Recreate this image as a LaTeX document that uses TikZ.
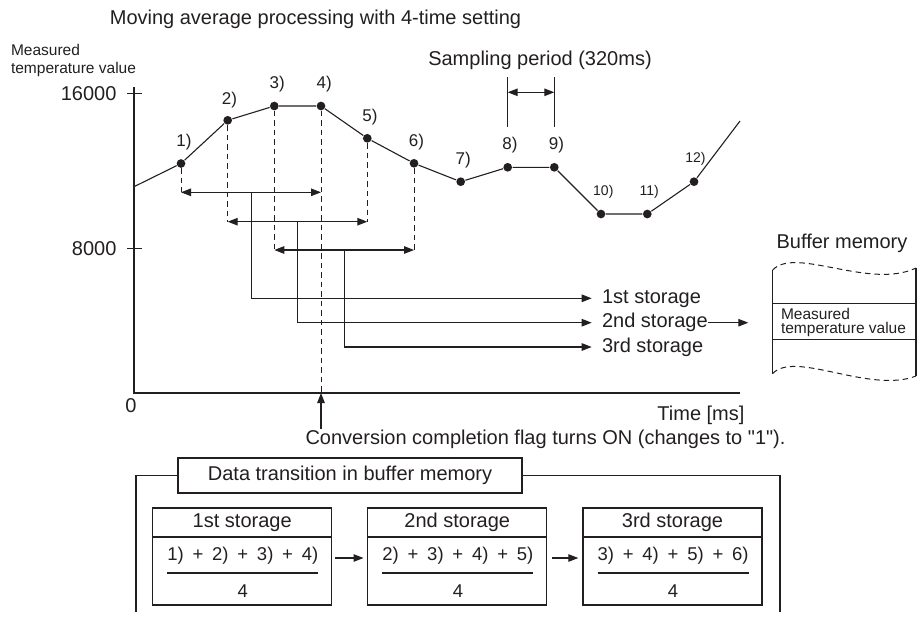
\documentclass[tikz,border=0pt]{standalone}
\usepackage{fontspec}
\setmainfont{Liberation Sans}[Ligatures=TeXOff]
\usetikzlibrary{arrows.meta}
\definecolor{ink}{RGB}{35,31,32}
\newcommand{\mypl}{\hspace{0.476em}+\hspace{0.476em}}
\begin{document}
\begin{tikzpicture}[x=1pt,y=-1pt, line width=1.1pt, color=ink,
  every node/.style={inner sep=0pt},
  lbl/.style={font=\fontsize{20}{22}\selectfont},
  small/.style={font=\fontsize{15.5}{17}\selectfont},
  ptl/.style={font=\fontsize{17}{18}\selectfont},
  ptls/.style={font=\fontsize{14}{16}\selectfont},
  frac/.style={font=\fontsize{18.5}{20}\selectfont},
  dot/.style={circle, fill=ink, minimum size=8.7pt, inner sep=0pt},
  dline/.style={dash pattern=on 5.5pt off 4pt, line width=1pt},
  tip/.style={-{Triangle[length=10pt,width=7.5pt]}},
  dtip/.style={{Triangle[length=10pt,width=7.5pt]}-{Triangle[length=10pt,width=7.5pt]}},
  hbox/.style={draw, line width=1.2pt, minimum width=179pt, minimum height=29pt, font=\fontsize{20}{22}\selectfont},
  bbox/.style={draw, line width=1.2pt, minimum width=179pt, minimum height=68pt},
]
\useasboundingbox (0,0) rectangle (920,619);

% title
\node[lbl, anchor=east] (title) at (521.7,19) {Moving average processing with 4-time setting};

% axis labels
\node[small, anchor=north west, align=left, font=\fontsize{15.5}{18}\selectfont] (ylab) at (10.5,44) {Measured\\temperature value};
\node[lbl, anchor=east] (v16) at (117,93.3) {16000};
\node[lbl, anchor=east] (v8) at (117,248.3) {8000};
\node[lbl] (v0) at (131,406) {0};

% axes
\coordinate (ytop) at (134,87);
\coordinate (orig) at (134,393);
\coordinate (xend) at (740,393);
\draw[line width=1.2pt] (ytop) -- (orig) -- (xend);
\coordinate (t16a) at (127,93.3); \coordinate (t16b) at (141.5,93.3);
\coordinate (t8a) at (127,248.3); \coordinate (t8b) at (141.5,248.3);
\draw[line width=1.2pt] (t16a) -- (t16b);
\draw[line width=1.2pt] (t8a) -- (t8b);

% data points
\foreach \i/\x/\y in {1/181/163.5, 2/227.7/120.3, 3/274.3/106, 4/321/106, 5/367.3/138.3, 6/414/163.3, 7/460.7/181.7, 8/507.7/167.3, 9/554.3/167.3, 10/601/214, 11/647.3/214, 12/694/181.7}
  \node[dot] (p\i) at (\x,\y) {};
\coordinate (gstart) at (134,186.7);
\coordinate (gend) at (740,121);
\draw (gstart) -- (p1) -- (p2) -- (p3) -- (p4) -- (p5) -- (p6) -- (p7) -- (p8) -- (p9) -- (p10) -- (p11) -- (p12) -- (gend);

% point labels
\node[ptl] (l1) at (184,141.7) {1)};
\node[ptl] (l2) at (229.5,100) {2)};
\node[ptl] (l3) at (277.3,84) {3)};
\node[ptl] (l4) at (324.3,84) {4)};
\node[ptl] (l5) at (370,116.7) {5)};
\node[ptl] (l6) at (416.5,141.7) {6)};
\node[ptl] (l7) at (463.3,160) {7)};
\node[ptl] (l8) at (510,145) {8)};
\node[ptl] (l9) at (556.5,145) {9)};
\node[ptls] (l10) at (603.3,191.7) {10)};
\node[ptls] (l11) at (649.3,191.7) {11)};
\node[ptls] (l12) at (695.5,159) {12)};

% sampling period
\coordinate (s1t) at (507.7,77.3); \coordinate (s1b) at (507.7,127.3);
\coordinate (s2t) at (554.3,77.3); \coordinate (s2b) at (554.3,127.3);
\coordinate (s1m) at (507.7,92.3); \coordinate (s2m) at (554.3,92.3);
\draw (s1t) -- (s1b);
\draw (s2t) -- (s2b);
\draw[dtip] (s1m) -- (s2m);
\node[lbl] (sp) at (540,60) {Sampling period (320ms)};

% averaging ranges
\coordinate (a1l) at (181,192.3); \coordinate (a1r) at (321,192.3);
\coordinate (a2l) at (227.7,221.7); \coordinate (a2r) at (367.3,221.7);
\coordinate (a3l) at (274.3,250); \coordinate (a3r) at (414,250);
\coordinate (xa4) at (321,393);
\draw[dline] (p1) -- (a1l);
\draw[dline] (p2) -- (a2l);
\draw[dline] (p3) -- (a3l);
\draw[dline] (p4) -- (xa4);
\draw[dline] (p5) -- (a2r);
\draw[dline] (p6) -- (a3r);
\draw[dtip] (a1l) -- (a1r);
\draw[dtip] (a2l) -- (a2r);
\draw[dtip] (a3l) -- (a3r);

% storage labels
\node[lbl, anchor=west] (st1) at (601.5,298.3) {1st storage};
\node[lbl, anchor=west] (st2) at (601.5,322.7) {2nd storage};
\node[lbl, anchor=west] (st3) at (601.5,347) {3rd storage};
\coordinate (m1) at (251.5,192.3);
\coordinate (m2) at (297.7,221.7);
\coordinate (m3) at (344.3,250);
\coordinate (e1) at (591.7,298.3);
\coordinate (e2) at (591.7,322.7);
\coordinate (e3) at (591.7,347);
\draw[tip] (m1) |- (e1);
\draw[tip] (m2) |- (e2);
\draw[tip] (m3) |- (e3);

% buffer memory
\node[lbl] (bufttl) at (842,243) {Buffer memory};
\coordinate (btl) at (772.7,270); \coordinate (btr) at (916,268);
\coordinate (bbl) at (772.7,373.5); \coordinate (bbr) at (916,376);
\coordinate (r1l) at (772.7,303.3); \coordinate (r1r) at (916,303.3);
\coordinate (r2l) at (772.7,339.3); \coordinate (r2r) at (916,339.3);
\draw (btl) -- (bbl);
\draw (btr) -- (bbr);
\draw (r1l) -- (r1r);
\draw (r2l) -- (r2r);
\draw[dline] (btl) .. controls (795,246) and (870,290) .. (btr);
\draw[dline] (bbl) .. controls (795,350) and (870,394) .. (bbr);
\node[anchor=west, align=left, font=\fontsize{15.5}{14.5}\selectfont] (bm) at (780.5,322.5) {Measured\\temperature value};
\coordinate (bin) at (748.3,322.7);
\draw[tip] (st2.east) -- (bin);

% x axis label and flag
\node[lbl, anchor=east] (tm) at (745,415.5) {Time [ms]};
\node[lbl, anchor=north west] (conv) at (305,429) {Conversion completion flag turns ON (changes to "1").};
\draw[tip] (conv.north -| xa4) -- (xa4);

% data transition section
\node[draw, lbl, line width=1.2pt, minimum width=344pt, minimum height=35pt] (dt) at (350,475.5) {Data transition in buffer memory};
\coordinate (fl) at (136,612);
\coordinate (fr) at (780,612);
\draw[line width=1.2pt] (fl) |- (dt.west);
\draw[line width=1.2pt] (fr) |- (dt.east);

\node[hbox] (h1) at (242.2,522.5) {1st storage};
\node[bbox] (b1) at (242.2,571) {};
\node[hbox] (h2) at (457.3,522.5) {2nd storage};
\node[bbox] (b2) at (457.3,571) {};
\node[hbox] (h3) at (672.5,522.5) {3rd storage};
\node[bbox] (b3) at (672.5,571) {};

\node[frac] (n1) at (242.8,556) {1)\mypl2)\mypl3)\mypl4)};
\node[frac] (n2) at (457.9,556) {2)\mypl3)\mypl4)\mypl5)};
\node[frac] (n3) at (673.1,556) {3)\mypl4)\mypl5)\mypl6)};
\node[frac] (d1) at (242.8,591.5) {4};
\node[frac] (d2) at (457.9,591.5) {4};
\node[frac] (d3) at (673.1,591.5) {4};
\coordinate (f1l) at (167.3,573); \coordinate (f1r) at (318.3,573);
\coordinate (f2l) at (382.4,573); \coordinate (f2r) at (533.4,573);
\coordinate (f3l) at (597.6,573); \coordinate (f3r) at (748.6,573);
\draw (f1l) -- (f1r);
\draw (f2l) -- (f2r);
\draw (f3l) -- (f3r);
\coordinate (ar1s) at (335,558); \coordinate (ar1e) at (363.5,558);
\coordinate (ar2s) at (552.3,558); \coordinate (ar2e) at (578.3,558);
\draw[tip] (ar1s) -- (ar1e);
\draw[tip] (ar2s) -- (ar2e);
\end{tikzpicture}
\end{document}
